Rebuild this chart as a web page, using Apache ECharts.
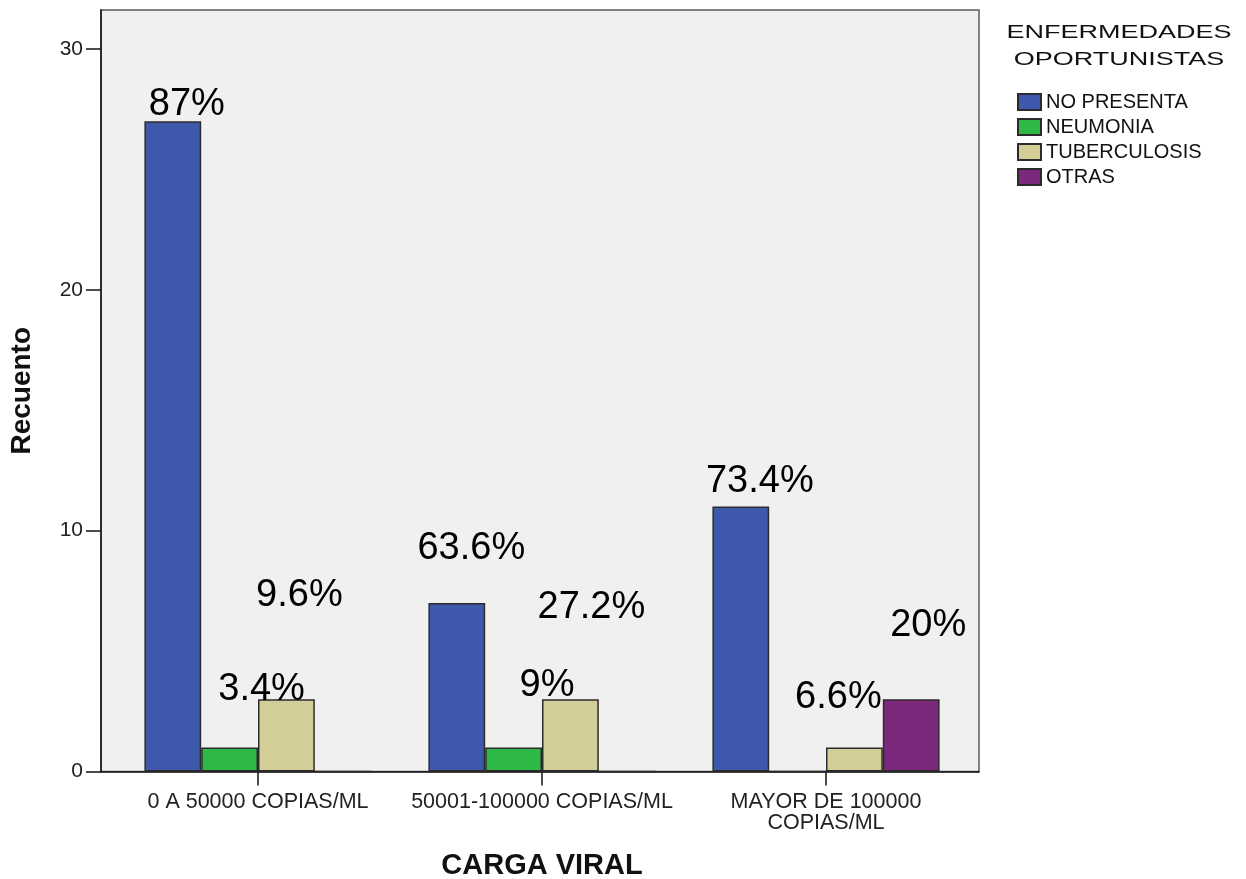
<!DOCTYPE html>
<html>
<head>
<meta charset="utf-8">
<title>Carga viral y enfermedades oportunistas</title>
<script src="https://cdn.jsdelivr.net/npm/echarts@6/dist/echarts.min.js"></script>
<style>
  html, body { margin: 0; padding: 0; background: #ffffff; }
  #chart { width: 1246px; height: 879px; }
</style>
</head>
<body>
<div id="chart"></div>
<script>
// Categories (viral load ranges)
const categories = ['0 A 50000 COPIAS/ML', '50001-100000 COPIAS/ML', 'MAYOR DE 100000\nCOPIAS/ML'];

// Series names (opportunistic diseases)
const seriesNames = ['NO PRESENTA', 'NEUMONIA', 'TUBERCULOSIS', 'OTRAS'];

// Counts per category
const noPresenta   = [27, 7, 11];
const neumonia     = [1, 1, 0];
const tuberculosis = [3, 3, 1];
const otras        = [0, 0, 3];

// Percentage annotations per bar (null = none)
const pctNoPresenta   = ['87%', '63.6%', '73.4%'];
const pctNeumonia     = ['3.4%', '9%', null];
const pctTuberculosis = ['9.6%', '27.2%', '6.6%'];
const pctOtras        = [null, null, '20%'];

// Y axis scale
const yMin = 0;
const yMax = 31.62;
const yStep = 10;

const seriesValues = [noPresenta, neumonia, tuberculosis, otras];
const seriesPct = [pctNoPresenta, pctNeumonia, pctTuberculosis, pctOtras];
const colors = ['#3E58AC', '#2EB848', '#D3CE97', '#7C287D'];

// Placement of each annotation: [dx, rise above bar top] in pixels
const labelNudge = [
  [[14, 17], [14.5, 54], [19, 25.5]],
  [[32, 58], [33.4, 61.5], null],
  [[13, 104], [21, 91.5], [-16, 49.5]],
  [null, null, [17, 74]]
];

const chart = echarts.init(document.getElementById('chart'), null, { renderer: 'canvas' });

const baseFont = "'Liberation Sans', Arial, sans-serif";

const series = seriesNames.map((name, s) => ({
  name: name,
  type: 'bar',
  xAxisIndex: 1,
  yAxisIndex: 1,
  barGap: '0%',
  barCategoryGap: '20%',
  itemStyle: { color: colors[s], borderColor: '#2b2b2b', borderWidth: 1.5 },
  emphasis: { disabled: true },
  data: seriesValues[s].map((v, i) => {
    const txt = seriesPct[s][i];
    const nudge = labelNudge[s][i];
    const item = { value: v };
    if (txt) {
      item.label = {
        show: true,
        position: 'top',
        distance: 0,
        verticalAlign: 'middle',
        offset: [nudge[0], -nudge[1]],
        formatter: txt,
        fontFamily: baseFont,
        fontSize: 38,
        color: '#000000'
      };
    } else {
      item.label = { show: false };
    }
    return item;
  })
}));

const option = {
  backgroundColor: '#ffffff',
  animation: false,
  grid: [
    // plot frame
    { left: 101, right: 267, top: 10, bottom: 107.5, show: true, outerBoundsMode: 'none',
      backgroundColor: '#F0F0F0', borderColor: '#5a5a5a', borderWidth: 1.5 },
    // bar layout area
    { left: 116, right: 278, top: 10, bottom: 107.5, outerBoundsMode: 'none' }
  ],
  xAxis: [
    { gridIndex: 0, type: 'value', min: 0, max: 1,
      axisLine: { show: true, lineStyle: { color: '#111', width: 1.5 } },
      axisTick: { show: false }, axisLabel: { show: false }, splitLine: { show: false } },
    { gridIndex: 1, type: 'category', data: categories,
      axisLine: { show: false },
      axisTick: { show: true, alignWithLabel: true, length: 14, lineStyle: { color: '#111', width: 1.5 } },
      axisLabel: { interval: 0, hideOverlap: false, margin: 20, fontFamily: baseFont,
        fontSize: 21.5, lineHeight: 21, color: '#222' },
      name: 'CARGA VIRAL', nameLocation: 'middle', nameGap: 80,
      nameTextStyle: { fontFamily: baseFont, fontSize: 29, fontWeight: 'bold', color: '#111' } }
  ],
  yAxis: [
    { gridIndex: 0, type: 'value', min: yMin, max: yMax, interval: yStep,
      axisLine: { show: true, lineStyle: { color: '#111', width: 1.5 } },
      axisTick: { show: true, length: 15, lineStyle: { color: '#111', width: 1.5 } },
      axisLabel: { margin: 18, fontFamily: baseFont, fontSize: 21, color: '#222',
        showMaxLabel: false },
      splitLine: { show: false },
      name: 'Recuento', nameLocation: 'middle', nameGap: 65, nameRotate: 90,
      nameTextStyle: { fontFamily: baseFont, fontSize: 28, fontWeight: 'bold', color: '#111' } },
    { gridIndex: 1, type: 'value', min: yMin, max: yMax, interval: yStep,
      axisLine: { show: false }, axisTick: { show: false }, axisLabel: { show: false },
      splitLine: { show: false } }
  ],
  legend: {
    orient: 'vertical',
    left: 1017,
    top: 92,
    padding: 0,
    itemWidth: 23,
    itemHeight: 16,
    itemGap: 5,
    icon: 'rect',
    selectedMode: false,
    data: seriesNames,
    textStyle: { fontFamily: baseFont, fontSize: 20, lineHeight: 20, color: '#111', padding: [0, 0, 0, 0] }
  },
  graphic: [
    { type: 'text', x: 1119, y: 33, scaleX: 1.5,
      style: { text: 'ENFERMEDADES', font: "18px 'Liberation Sans', Arial, sans-serif",
        fill: '#111', textAlign: 'center', textVerticalAlign: 'middle' } },
    { type: 'text', x: 1119, y: 60, scaleX: 1.5,
      style: { text: 'OPORTUNISTAS', font: "18px 'Liberation Sans', Arial, sans-serif",
        fill: '#111', textAlign: 'center', textVerticalAlign: 'middle' } }
  ],
  series: series
};

chart.setOption(option);
</script>
</body>
</html>
